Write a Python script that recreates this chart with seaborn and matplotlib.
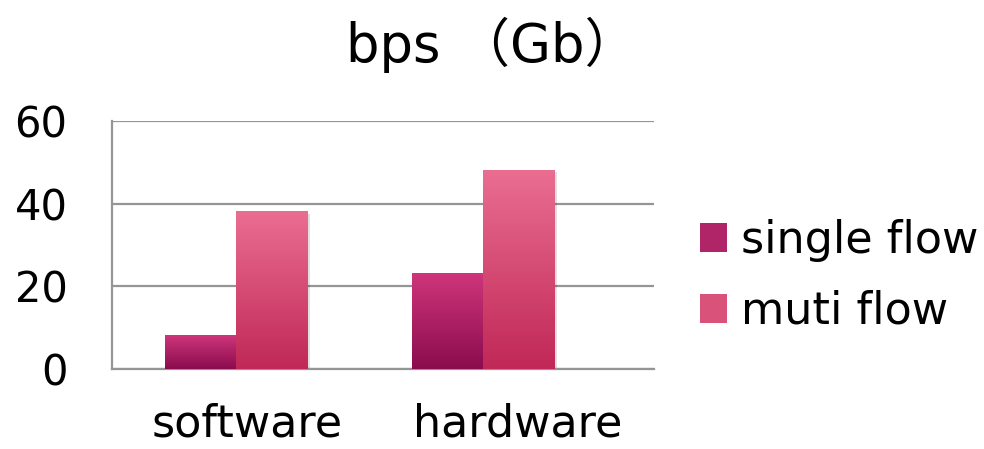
import numpy as np
import pandas as pd
import seaborn as sns
import matplotlib.pyplot as plt
from matplotlib.colors import LinearSegmentedColormap
from matplotlib.patches import Rectangle

platforms = ["software", "hardware"]
series = ["single flow", "muti flow"]
single_flow = [8, 23]
muti_flow = [38, 48]
yticks = [0, 20, 40, 60]

df = pd.DataFrame({
    "platform": platforms * 2,
    "series": [series[0]] * 2 + [series[1]] * 2,
    "bps": single_flow + muti_flow,
})

# top colour, bottom colour for each series
grad = {
    "single flow": ("#cf357a", "#8a0c4e"),
    "muti flow": ("#ea6e91", "#c02857"),
}
mid = {"single flow": "#b02468", "muti flow": "#d8527a"}

sns.set_style("white")
plt.rcParams["font.family"] = ["DejaVu Sans", "Noto Sans CJK SC"]
plt.rcParams["text.color"] = "black"

fig = plt.figure(figsize=(9.84, 4.49), dpi=100)
ax = fig.add_axes([0.1138, 0.1782, 0.5508, 0.5523])

sns.barplot(data=df, x="platform", y="bps", hue="series", hue_order=series,
            order=platforms, palette=mid, width=0.575, ax=ax, legend=False,
            linewidth=0, zorder=3)

# gradient fill on each bar
bars = [p for p in ax.patches if isinstance(p, Rectangle)]
for i, p in enumerate(bars):
    s = series[i // len(platforms)]
    cmap = LinearSegmentedColormap.from_list(s, [grad[s][1], grad[s][0]])
    x, w, h = p.get_x(), p.get_width(), p.get_height()
    g = np.linspace(0, 1, 256).reshape(-1, 1)
    # soft shadow
    ax.add_patch(Rectangle((x + 0.012, -0.6), w, h + 0.2, facecolor="#000000",
                           alpha=0.12, linewidth=0, zorder=2))
    ax.imshow(g, extent=[x, x + w, 0, h], origin="lower", aspect="auto",
              cmap=cmap, zorder=4)
    p.set_visible(False)

ax.set_xlim(-0.502, 1.692)
ax.set_ylim(0, 60)
ax.set_yticks(yticks)
ax.set_xticks(np.arange(len(platforms)) + np.array([0.045, 0.14]))
ax.set_xticklabels(platforms)
ax.set_xlabel("")
ax.set_ylabel("")
ax.grid(axis="y", color="#959595", linewidth=1.6, zorder=1)
ax.set_axisbelow(True)
for side in ["top", "right"]:
    ax.spines[side].set_visible(False)
for side in ["left", "bottom"]:
    ax.spines[side].set_color("#959595")
    ax.spines[side].set_linewidth(1.6)
ax.tick_params(axis="both", length=0, colors="black")
ax.tick_params(axis="y", pad=32, labelsize=30)
ax.tick_params(axis="x", pad=24, labelsize=32)

fig.text(0.5, 1 - 45 / 449, "bps （Gb）", ha="center", va="center", fontsize=38)

handles = [Rectangle((0, 0), 1, 1, facecolor=mid[s], linewidth=0) for s in series]
fig.legend(handles, series, loc="center left", bbox_to_anchor=(0.711, 0.385),
           frameon=False, fontsize=32, handlelength=0.62, handleheight=0.62,
           handletextpad=0.3, labelspacing=0.62, borderaxespad=0, borderpad=0)

fig.savefig("out.png", dpi=100)
